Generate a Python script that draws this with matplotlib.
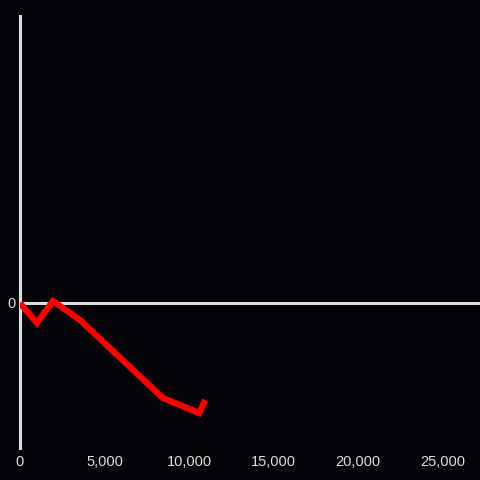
import matplotlib
matplotlib.use("Agg")
import matplotlib.pyplot as plt
from matplotlib.ticker import FuncFormatter

# data (y in arbitrary units)
x_vals = [0, 1000, 1950, 3550, 8450, 10600, 10950]
y_vals = [0, -20, 2, -17, -95, -110, -97]
x_ticks = [0, 5000, 10000, 15000, 20000, 25000]

bg = "#050307"
fg = "#dddddd"

plt.rcParams["font.family"] = ["Liberation Sans", "DejaVu Sans"]

fig = plt.figure(figsize=(4.8, 4.8), dpi=100, facecolor=bg)
ax = fig.add_axes([20 / 480, 32 / 480, 460 / 480, 432 / 480], facecolor=bg)

ax.plot(x_vals, y_vals, color="#ff0000", lw=4.5, solid_joinstyle="miter",
        solid_capstyle="butt", zorder=3)
ax.axhline(0, color=fg, lw=2.2, zorder=2)

ax.set_xlim(0, 27200)
ax.set_ylim(-145, 287)

for side in ["top", "right", "bottom"]:
    ax.spines[side].set_visible(False)
ax.spines["left"].set_color(fg)
ax.spines["left"].set_linewidth(2.2)

ax.set_xticks(x_ticks)
ax.xaxis.set_major_formatter(FuncFormatter(lambda v, p: f"{int(v):,}"))
ax.set_yticks([0])
ax.tick_params(axis="both", length=0, colors=fg, labelsize=10.5)
ax.tick_params(axis="x", pad=5)
ax.tick_params(axis="y", pad=3)

fig.savefig("out.png", dpi=100, facecolor=bg)
